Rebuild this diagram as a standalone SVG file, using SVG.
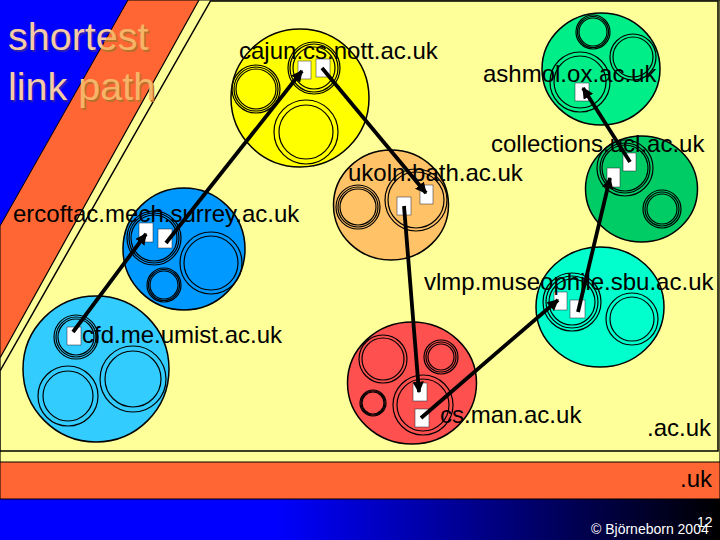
<svg xmlns="http://www.w3.org/2000/svg" width="720" height="540" viewBox="0 0 720 540">
<style>
text{font-family:"Liberation Sans",Arial,sans-serif;fill:#000}
.l{font-size:24px}
.r{fill:none;stroke:#000;stroke-width:1.2}
.c{stroke:#000;stroke-width:1.5}
.b{fill:#fff;stroke:#223;stroke-width:.5}
.k{stroke:#000;stroke-width:3.800;fill:none;marker-end:url(#a)}
.t{font-size:39.500px;fill:url(#tf)}
.s{font-size:39.500px;fill:url(#sf)}
.w{font-size:14px;fill:#fff}
</style>
<defs>
<linearGradient id="g" x1="0" x2="720" y1="0" y2="0" gradientUnits="userSpaceOnUse"><stop offset="0.38" stop-color="#0000ff"/><stop offset="1" stop-color="#000"/></linearGradient>
<linearGradient id="tf" x1="128" y1="0" x2="354" y2="128" gradientUnits="userSpaceOnUse"><stop offset="0" stop-color="#f5cba5"/><stop offset="0" stop-color="#f5b468"/></linearGradient>
<linearGradient id="sf" x1="128" y1="0" x2="354" y2="128" gradientUnits="userSpaceOnUse"><stop offset="0" stop-color="#2a20b0"/><stop offset="0" stop-color="#b8702c"/></linearGradient>
<marker id="a" viewBox="0 0 10 10" refX="9" refY="5" markerWidth="3" markerHeight="3" orient="auto"><path d="M0 0L10 5L0 10Z" fill="#000"/></marker>
</defs>
<rect width="720" height="540" fill="url(#g)"/>
<path d="M128 0L199 0L210 0L720 0L720 499L0 499L0 226Z" fill="#ff6633" stroke="#000" stroke-width="1"/>
<path d="M199 0L720 0L720 462L0 462L0 358Z" fill="#ffff99" stroke="#000" stroke-width="1.2"/>
<path d="M210.500 1L718 1L718 451L0 451L0 371Z" fill="#ffff99" stroke="#000" stroke-width="1.500"/>
<g id="title">
<text class="s" x="9.500" y="51.500">shortest</text><text class="s" x="9.500" y="101.500">link path</text>
<text class="t" x="8" y="50">shortest</text><text class="t" x="8" y="100">link path</text>
</g>
<g id="cajun">
<circle class="c" cx="300" cy="98" r="69" fill="#ffff00"/>
<circle class="r" cx="256" cy="89" r="24"/><circle class="r" cx="256" cy="89" r="22"/><circle class="r" cx="256" cy="89" r="20"/>
<circle class="r" cx="314" cy="68" r="26"/><circle class="r" cx="314" cy="68" r="24"/><circle class="r" cx="314" cy="68" r="21"/>
<circle class="r" cx="306" cy="132" r="32"/><circle class="r" cx="306" cy="132" r="27"/>
<rect class="b" x="298" y="61" width="13" height="18"/><rect class="b" x="316" y="59" width="14" height="18"/>
<text class="l" x="239" y="59">cajun.cs.nott.ac.uk</text>
</g>
<g id="ashmol">
<ellipse class="c" cx="601" cy="69" rx="59" ry="56" fill="#00ee88"/>
<circle class="r" cx="593" cy="32" r="17"/><circle class="r" cx="593" cy="32" r="15.500"/><circle class="r" cx="593" cy="32" r="14"/>
<circle class="r" cx="633" cy="57" r="23"/><circle class="r" cx="633" cy="57" r="20"/>
<circle class="r" cx="580" cy="82" r="30"/><circle class="r" cx="580" cy="82" r="26"/>
<rect class="b" x="575" y="83" width="14" height="18"/>
<text class="l" x="483" y="82">ashmol.ox.ac.uk</text>
</g>
<g id="collections">
<ellipse class="c" cx="641.500" cy="189" rx="56" ry="53" fill="#00cc66"/>
<circle class="r" cx="625" cy="168" r="28"/><circle class="r" cx="625" cy="168" r="25"/><circle class="r" cx="625" cy="168" r="23"/>
<circle class="r" cx="662" cy="209" r="19"/><circle class="r" cx="662" cy="209" r="17"/><circle class="r" cx="662" cy="209" r="15"/>
<rect class="b" x="623" y="153" width="13" height="18"/><rect class="b" x="607" y="168" width="13" height="19"/>
<text class="l" x="491" y="152">collections.ucl.ac.uk</text>
</g>
<g id="ukoln">
<ellipse class="c" cx="391" cy="205" rx="57.500" ry="55" fill="#ffc266"/>
<circle class="r" cx="358" cy="207" r="22"/><circle class="r" cx="358" cy="207" r="20"/><circle class="r" cx="358" cy="207" r="18"/>
<circle class="r" cx="416" cy="200" r="31"/><circle class="r" cx="416" cy="200" r="28"/>
<rect class="b" x="420" y="185" width="13" height="19"/><rect class="b" x="397" y="197" width="14" height="18"/>
<text class="l" x="348" y="181">ukoln.bath.ac.uk</text>
</g>
<g id="ercoftac">
<circle class="c" cx="184" cy="249" r="61" fill="#0099ff"/>
<circle class="r" cx="154" cy="238" r="27"/><circle class="r" cx="154" cy="238" r="25"/><circle class="r" cx="154" cy="238" r="23"/>
<circle class="r" cx="164" cy="285" r="17"/><circle class="r" cx="164" cy="285" r="15.500"/><circle class="r" cx="164" cy="285" r="14"/>
<circle class="r" cx="211" cy="263" r="31"/><circle class="r" cx="211" cy="263" r="27"/>
<rect class="b" x="139" y="223" width="14" height="19"/><rect class="b" x="158" y="229" width="14" height="19"/>
<text class="l" x="13" y="222">ercoftac.mech.surrey.ac.uk</text>
</g>
<g id="vlmp">
<ellipse class="c" cx="600" cy="307" rx="64" ry="60" fill="#00ffcc"/>
<circle class="r" cx="572" cy="302" r="29"/><circle class="r" cx="572" cy="302" r="26"/><circle class="r" cx="572" cy="302" r="23"/>
<circle class="r" cx="632" cy="319" r="26"/><circle class="r" cx="632" cy="319" r="22"/>
<rect class="b" x="554" y="292" width="13" height="18"/><rect class="b" x="570" y="300" width="15" height="18"/>
<text class="l" x="424" y="290">vlmp.museophile.sbu.ac.uk</text>
</g>
<g id="cfd">
<circle class="c" cx="96" cy="369" r="73" fill="#33ccff"/>
<circle class="r" cx="76" cy="337" r="22"/><circle class="r" cx="76" cy="337" r="20"/><circle class="r" cx="76" cy="337" r="18"/>
<circle class="r" cx="68" cy="396" r="30"/><circle class="r" cx="68" cy="396" r="25"/>
<circle class="r" cx="133" cy="379" r="33"/><circle class="r" cx="133" cy="379" r="28"/>
<rect class="b" x="67" y="327" width="14" height="18"/>
<text class="l" x="82" y="343">cfd.me.umist.ac.uk</text>
</g>
<g id="csman">
<ellipse class="c" cx="412" cy="383" rx="64.500" ry="61" fill="#ff5050"/>
<circle class="r" cx="383" cy="359" r="24"/><circle class="r" cx="383" cy="359" r="21"/>
<circle class="r" cx="441" cy="357" r="17"/><circle class="r" cx="441" cy="357" r="15"/><circle class="r" cx="441" cy="357" r="13"/>
<circle class="r" cx="373" cy="403" r="13"/><circle class="r" cx="373" cy="403" r="12"/><circle class="r" cx="373" cy="403" r="11"/>
<circle class="r" cx="423" cy="405" r="30"/><circle class="r" cx="423" cy="405" r="26"/>
<rect class="b" x="413" y="383" width="14" height="18"/><rect class="b" x="415" y="409" width="14" height="18"/>
<text class="l" x="440" y="423">cs.man.ac.uk</text>
</g>
<g id="labels">
<text class="l" x="647" y="436">.ac.uk</text>
<text class="l" x="680" y="487">.uk</text>
<text class="w" x="591" y="534">© Björneborn 2004</text>
<text class="w" x="697" y="527">12</text>
</g>
<g id="connectors">
<path class="k" d="M166 243L302 71"/>
<path class="k" d="M73 332L146 234"/>
<path class="k" d="M322 68L426 193"/>
<path class="k" d="M404 206L419 392"/>
<path class="k" d="M421 418L558 300"/>
<path class="k" d="M630 162L583 88"/>
<path class="k" d="M578 312L610 178"/>
</g>
</svg>
